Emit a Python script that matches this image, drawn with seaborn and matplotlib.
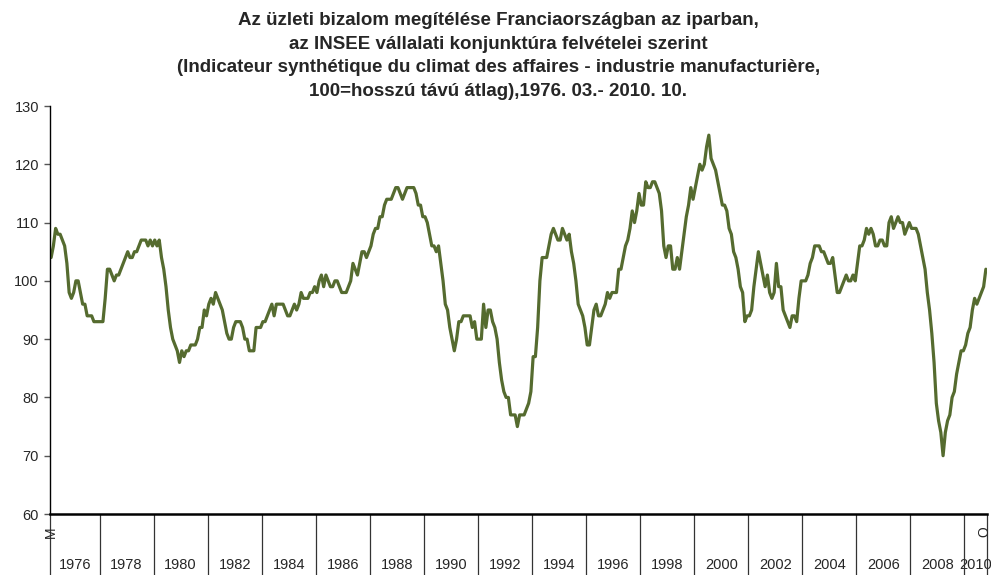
import matplotlib
matplotlib.use("Agg")
import matplotlib.pyplot as plt
import matplotlib.transforms as mtransforms
import numpy as np
import pandas as pd
import seaborn as sns

# INSEE manufacturing business climate, monthly, 1976.03 - 2010.10
climate = [
    104, 106, 109, 108, 108, 107, 106, 103, 98, 97,               # 1976 (Mar-Dec)
    98, 100, 100, 98, 96, 96, 94, 94, 94, 93, 93, 93,             # 1977
    93, 93, 97, 102, 102, 101, 100, 101, 101, 102, 103, 104,      # 1978
    105, 104, 104, 105, 105, 106, 107, 107, 107, 106, 107, 106,   # 1979
    107, 106, 107, 104, 102, 99, 95, 92, 90, 89, 88, 86,          # 1980
    88, 87, 88, 88, 89, 89, 89, 90, 92, 92, 95, 94,               # 1981
    96, 97, 96, 98, 97, 96, 95, 93, 91, 90, 90, 92,               # 1982
    93, 93, 93, 92, 90, 90, 88, 88, 88, 92, 92, 92,               # 1983
    93, 93, 94, 95, 96, 94, 96, 96, 96, 96, 95, 94,               # 1984
    94, 95, 96, 95, 96, 98, 97, 97, 97, 98, 98, 99,               # 1985
    98, 100, 101, 99, 101, 100, 99, 99, 100, 100, 99, 98,         # 1986
    98, 98, 99, 100, 103, 102, 101, 103, 105, 105, 104, 105,      # 1987
    106, 108, 109, 109, 111, 111, 113, 114, 114, 114, 115, 116,   # 1988
    116, 115, 114, 115, 116, 116, 116, 116, 115, 113, 113, 111,   # 1989
    111, 110, 108, 106, 106, 105, 106, 103, 100, 96, 95, 92,      # 1990
    90, 88, 90, 93, 93, 94, 94, 94, 94, 92, 93, 90,               # 1991
    90, 90, 96, 92, 95, 95, 93, 92, 90, 86, 83, 81,               # 1992
    80, 80, 77, 77, 77, 75, 77, 77, 77, 78, 79, 81,               # 1993
    87, 87, 92, 100, 104, 104, 104, 106, 108, 109, 108, 107,      # 1994
    107, 109, 108, 107, 108, 105, 103, 100, 96, 95, 94, 92,       # 1995
    89, 89, 92, 95, 96, 94, 94, 95, 96, 98, 97, 98,               # 1996
    98, 98, 102, 102, 104, 106, 107, 109, 112, 110, 112, 115,     # 1997
    113, 113, 117, 116, 116, 117, 117, 116, 115, 112, 106, 104,   # 1998
    106, 106, 102, 102, 104, 102, 105, 108, 111, 113, 116, 114,   # 1999
    116, 118, 120, 119, 120, 123, 125, 121, 120, 119, 117, 115,   # 2000
    113, 113, 112, 109, 108, 105, 104, 102, 99, 98, 93, 94,       # 2001
    94, 95, 99, 102, 105, 103, 101, 99, 101, 98, 97, 98,          # 2002
    103, 99, 99, 95, 94, 93, 92, 94, 94, 93, 97, 100,             # 2003
    100, 100, 101, 103, 104, 106, 106, 106, 105, 105, 104, 103,   # 2004
    103, 104, 101, 98, 98, 99, 100, 101, 100, 100, 101, 100,      # 2005
    103, 106, 106, 107, 109, 108, 109, 108, 106, 106, 107, 107,   # 2006
    106, 106, 110, 111, 109, 110, 111, 110, 110, 108, 109, 110,   # 2007
    109, 109, 109, 108, 106, 104, 102, 98, 95, 91, 86, 79,        # 2008
    76, 74, 70, 74, 76, 77, 80, 81, 84, 86, 88, 88,               # 2009
    89, 91, 92, 95, 97, 96, 97, 98, 99, 102,                      # 2010 (Jan-Oct)
]
year_labels = [str(y) for y in range(1976, 2011, 2)]
first_month = "M"
last_month = "O"
start_year, start_month = 1976, 3

title = ("Az üzleti bizalom megítélése Franciaországban az iparban,\n"
         "az INSEE vállalati konjunktúra felvételei szerint\n"
         "(Indicateur synthétique du climat des affaires - industrie manufacturière,\n"
         "100=hosszú távú átlag),1976. 03.- 2010. 10.")

n = len(climate)
df = pd.DataFrame({"idx": np.arange(n), "value": climate})
months_abs = start_year * 12 + (start_month - 1) + df["idx"]
df["year"] = months_abs // 12

sns.set_style("white")
plt.rcParams["font.family"] = ["Liberation Sans", "DejaVu Sans"]

fig = plt.figure(figsize=(9.91, 5.75), dpi=100)
ax = fig.add_axes([50 / 991, 1 - 514 / 575, 937 / 991, 408 / 575])

sns.lineplot(data=df, x="idx", y="value", ax=ax, color="#556B2F", linewidth=2.3)

ax.set_xlim(-0.5, n - 0.5)
ax.set_ylim(60, 130)
ax.set_yticks(range(60, 131, 10))
ax.set_xlabel("")
ax.set_ylabel("")

# two-year groups on the category axis
group_id = (df["year"] - start_year) // 2
bounds = [-0.5]
centers = []
for g, sub in df.groupby(group_id):
    centers.append((sub["idx"].min() + sub["idx"].max()) / 2)
    bounds.append(sub["idx"].max() + 0.5)

ax.set_xticks(centers)
ax.set_xticklabels(year_labels, fontsize=10.5)
ax.set_xticks(bounds, minor=True)
ax.tick_params(axis="x", which="major", length=0, pad=32, bottom=True)
ax.tick_params(axis="x", which="minor", length=44, width=0.9, color="#333333",
               direction="out", bottom=True)
ax.tick_params(axis="y", length=4, width=1, color="#555555", pad=4, labelsize=10.5,
               left=True)

trans = mtransforms.blended_transform_factory(ax.transData, ax.transAxes)
ax.text(0, -0.044, first_month, transform=trans, rotation=90, ha="center",
        va="center", fontsize=10)
ax.text(n - 1.5, -0.044, last_month, transform=trans, rotation=90, ha="center",
        va="center", fontsize=10)

for side in ["top", "right"]:
    ax.spines[side].set_visible(False)
ax.spines["left"].set_color("black")
ax.spines["left"].set_linewidth(1)
ax.spines["bottom"].set_color("black")
ax.spines["bottom"].set_linewidth(1.8)

fig.text(0.503, 0.979, title, ha="center", va="top", fontsize=13.5,
         fontweight="bold", linespacing=1.5)

fig.savefig("out.png", dpi=100)
plt.close(fig)
